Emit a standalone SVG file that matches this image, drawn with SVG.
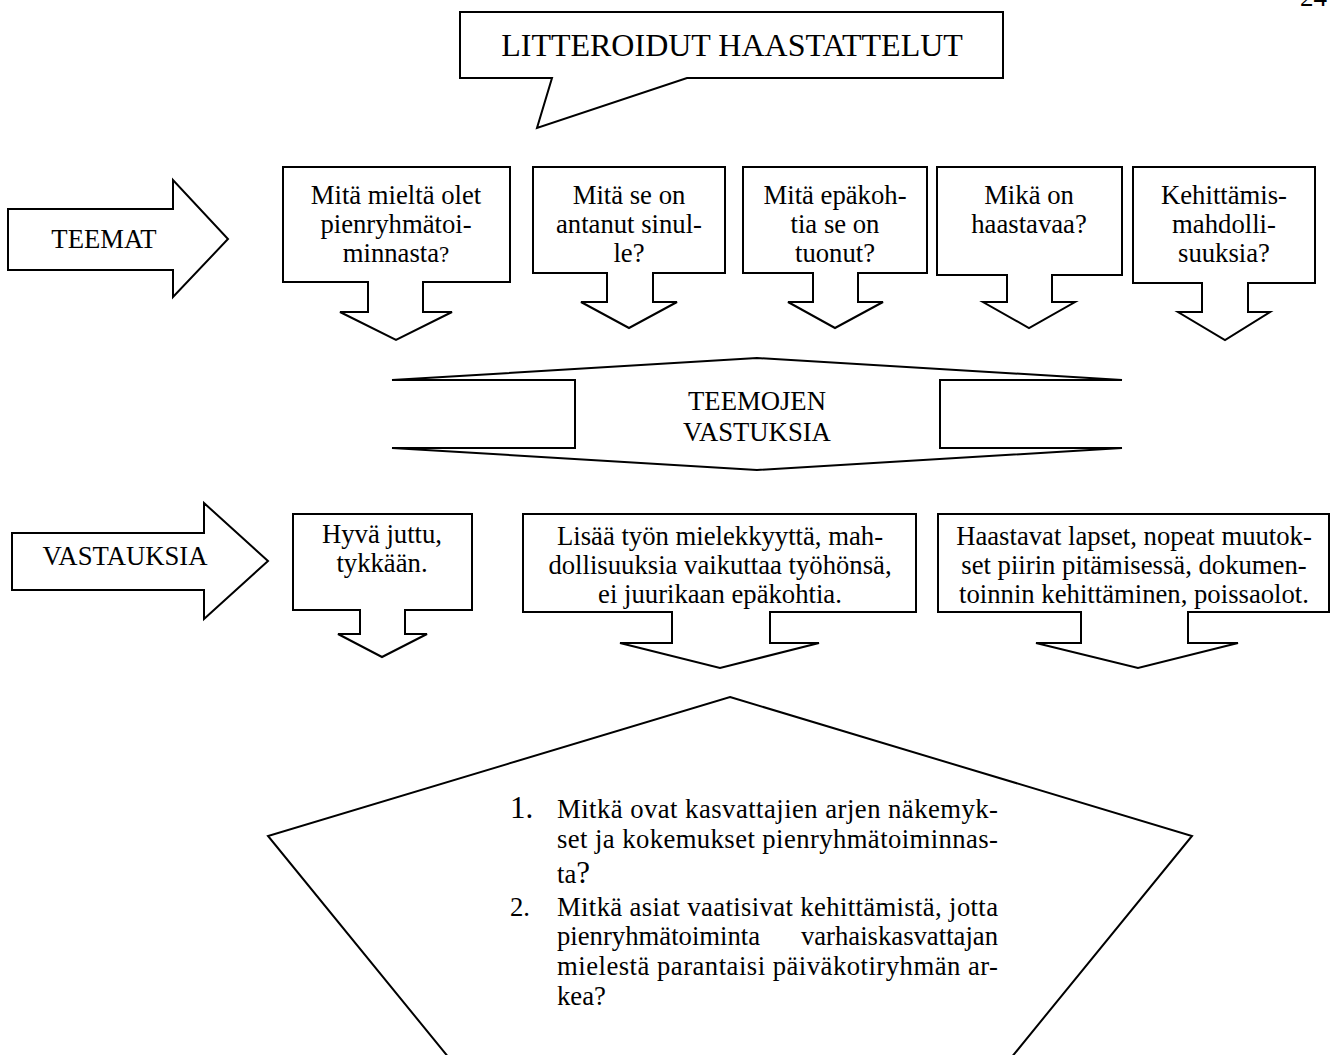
<svg xmlns="http://www.w3.org/2000/svg" width="1331" height="1055" viewBox="0 0 1331 1055">
<style>
.s{fill:#fff;stroke:#000;stroke-width:2;stroke-linejoin:miter}
text{font-family:"Liberation Serif","Times New Roman",serif;font-size:26.7px;fill:#000}
.c{text-anchor:middle}
</style>
<rect width="1331" height="1055" fill="#fff"/>
<text x="1300" y="6" style="font-size:27px">24</text>
<g id="title">
<path class="s" d="M460,12 H1003 V78 H687 L537,128 L552,78 H460 Z"/>
<text class="c" x="732" y="56" style="font-size:32px">LITTEROIDUT HAASTATTELUT</text>
</g>
<g id="teemat">
<path class="s" d="M8,209 H173 V180 L228,239 L173,297 V270 H8 Z"/>
<text class="c" x="104" y="248">TEEMAT</text>
</g>
<g id="q1">
<path class="s" d="M283,167 H510 V282 H423 V312 H452 L396,340 L340,312 H368 V282 H283 Z"/>
<text class="c" x="396" y="204">Mitä mieltä olet</text>
<text class="c" x="396" y="233">pienryhmätoi-</text>
<text class="c" x="396" y="262">minnasta<tspan style="font-size:23px">?</tspan></text>
</g>
<g id="q2">
<path class="s" d="M533,167 H725 V273 H653 V302 H677 L629,328 L581,302 H607 V273 H533 Z"/>
<text class="c" x="629" y="204">Mitä se on</text>
<text class="c" x="629" y="233">antanut sinul-</text>
<text class="c" x="629" y="262">le?</text>
</g>
<g id="q3">
<path class="s" d="M743,167 H927 V273 H858 V302 H883 L835,328 L788,302 H813 V273 H743 Z"/>
<text class="c" x="835" y="204">Mitä epäkoh-</text>
<text class="c" x="835" y="233">tia se on</text>
<text class="c" x="835" y="262">tuonut?</text>
</g>
<g id="q4">
<path class="s" d="M937,167 H1122 V275 H1052 V302 H1075 L1029,328 L983,302 H1007 V275 H937 Z"/>
<text class="c" x="1029" y="204">Mikä on</text>
<text class="c" x="1029" y="233">haastavaa?</text>
</g>
<g id="q5">
<path class="s" d="M1133,167 H1315 V283 H1248 V312 H1270 L1225,340 L1178,312 H1202 V283 H1133 Z"/>
<text class="c" x="1224" y="204">Kehittämis-</text>
<text class="c" x="1224" y="233">mahdolli-</text>
<text class="c" x="1224" y="262">suuksia?</text>
</g>
<g id="teemojen">
<path class="s" d="M392,380 L757,358 L1122,380 H940 V448 H1122 L757,470 L392,448 H575 V380 Z"/>
<text class="c" x="757" y="410">TEEMOJEN</text>
<text class="c" x="757" y="441">VASTUKSIA</text>
</g>
<g id="vastauksia">
<path class="s" d="M12,533 H204 V503 L268,561 L204,619 V590 H12 Z"/>
<text class="c" x="125" y="565">VASTAUKSIA</text>
</g>
<g id="a1">
<path class="s" d="M293,514 H472 V610 H405 V634 H427 L382,657 L338,634 H360 V610 H293 Z"/>
<text class="c" x="382" y="543">Hyvä juttu,</text>
<text class="c" x="382" y="572">tykkään.</text>
</g>
<g id="a2">
<path class="s" d="M523,514 H916 V612 H770 V643 H819 L720,668 L620,643 H672 V612 H523 Z"/>
<text class="c" x="720" y="545">Lisää työn mielekkyyttä, mah-</text>
<text class="c" x="720" y="574">dollisuuksia vaikuttaa työhönsä,</text>
<text class="c" x="720" y="603">ei juurikaan epäkohtia.</text>
</g>
<g id="a3">
<path class="s" d="M938,514 H1329 V612 H1188 V643 H1238 L1138,668 L1036,643 H1081 V612 H938 Z"/>
<text class="c" x="1134" y="545">Haastavat lapset, nopeat muutok-</text>
<text class="c" x="1134" y="574">set piirin pitämisessä, dokumen-</text>
<text class="c" x="1134" y="603">toinnin kehittäminen, poissaolot.</text>
</g>
<g id="tutkimuskysymykset">
<path class="s" d="M730,697 L1192,836 L993,1080 L467,1080 L268,836 Z"/>
<text x="510" y="818" style="font-size:31px">1.</text>
<text x="557" y="818" textLength="441" lengthAdjust="spacing">Mitkä ovat kasvattajien arjen näkemyk-</text>
<text x="557" y="848" textLength="441" lengthAdjust="spacing">set ja kokemukset pienryhmätoiminnas-</text>
<text x="557" y="883">ta<tspan style="font-size:31px">?</tspan></text>
<text x="510" y="916">2.</text>
<text x="557" y="916" textLength="441" lengthAdjust="spacing">Mitkä asiat vaatisivat kehittämistä, jotta</text>
<text x="557" y="945">pienryhmätoiminta</text>
<text x="998" y="945" style="text-anchor:end">varhaiskasvattajan</text>
<text x="557" y="975" textLength="441" lengthAdjust="spacing">mielestä parantaisi päiväkotiryhmän ar-</text>
<text x="557" y="1005">kea?</text>
</g>
</svg>
